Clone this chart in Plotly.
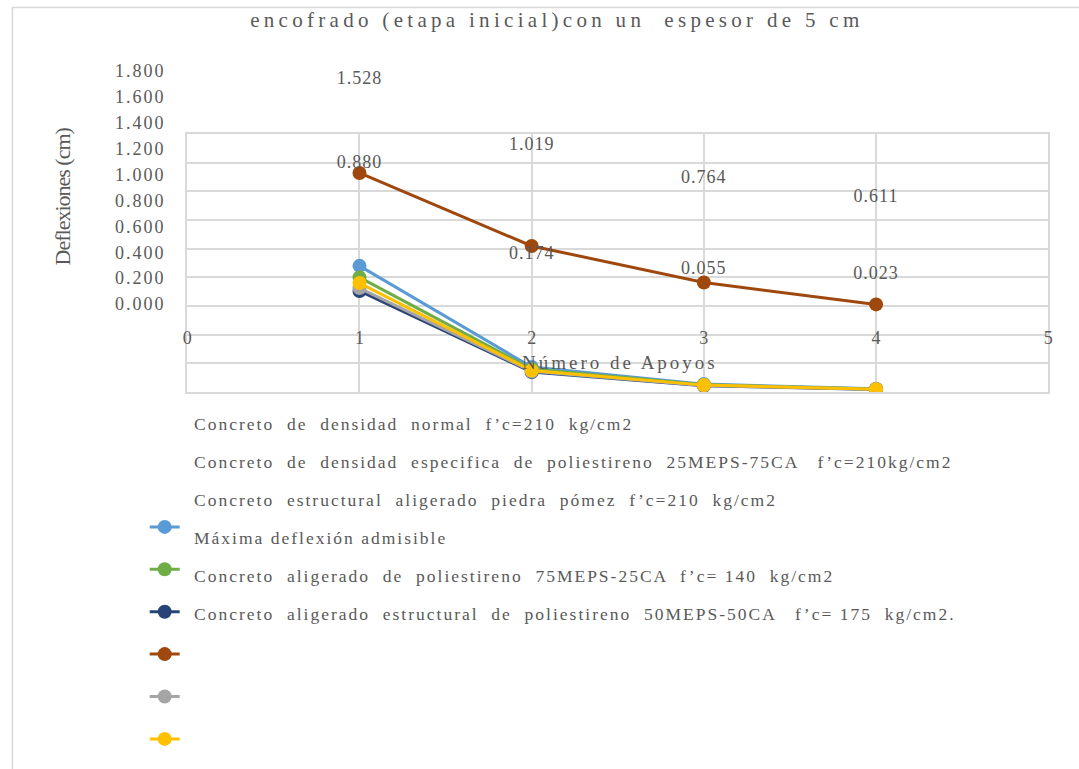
import plotly.graph_objects as go

W, H = 1079, 769

# ---------------- data ----------------
apoyos = [1, 2, 3, 4]
series_names = [
    "Concreto  de  densidad  normal  f’c=210  kg/cm2",
    "Concreto  de  densidad  especifica  de  poliestireno  25MEPS-75CA   f’c=210kg/cm2",
    "Concreto  estructural  aligerado  piedra  pómez  f’c=210  kg/cm2",
    "Máxima deflexión admisible",
    "Concreto  aligerado  de  poliestireno  75MEPS-25CA  f’c= 140  kg/cm2",
    "Concreto  aligerado  estructural  de  poliestireno  50MEPS-50CA   f’c= 175  kg/cm2.",
]
series_colors = ["#5B9BD5", "#70AD47", "#264478", "#9E480E", "#A5A5A5", "#FFC000"]
deflex_normal = [0.880, 0.174, 0.055, 0.023]
deflex_25meps = [0.800, 0.160, 0.050, 0.021]
deflex_pomez = [0.705, 0.140, 0.044, 0.018]
deflex_maxima = [1.528, 1.019, 0.764, 0.611]
deflex_75meps = [0.725, 0.145, 0.046, 0.019]
deflex_50meps = [0.760, 0.150, 0.048, 0.020]
series_values = [deflex_normal, deflex_25meps, deflex_pomez,
                 deflex_maxima, deflex_75meps, deflex_50meps]
labelled_series = [deflex_maxima, deflex_normal]

y_tick_values = [0.0, 0.2, 0.4, 0.6, 0.8, 1.0, 1.2, 1.4, 1.6, 1.8]
x_tick_values = [0, 1, 2, 3, 4, 5]

title_text = "encofrado (etapa inicial)con un  espesor de 5 cm"
x_title = "Número de Apoyos"
y_title = "Deflexiones (cm)"

# ---------------- style ----------------
FONT = "Liberation Serif"
TXT = "#595959"
GRID = "#D9D9D9"
CLEAR = "rgba(0,0,0,0)"


def px_x(p):
    return p / W


def px_y(p):
    return 1 - p / H


def spaced(t, ls):
    return f'<span style="letter-spacing:{ls}px">{t}</span>'


fig = go.Figure()

# data lines
for name, vals, col in zip(series_names, series_values, series_colors):
    fig.add_trace(go.Scatter(
        x=apoyos, y=vals, mode="lines+markers", name=name,
        line=dict(color=col, width=3), marker=dict(color=col, size=14),
        showlegend=False, xaxis="x", yaxis="y"))

# data labels (placed on the label scale, as in the reference)
for vals in labelled_series:
    fig.add_trace(go.Scatter(
        x=apoyos, y=vals, mode="text",
        text=[spaced(f"{v:.3f}", 1) for v in vals],
        textposition="middle center",
        textfont=dict(family=FONT, size=18, color=TXT),
        showlegend=False, hoverinfo="skip", cliponaxis=False,
        xaxis="x3", yaxis="y3"))

# helper traces so that the tick-label axes are drawn
fig.add_trace(go.Scatter(x=[None], y=[None], xaxis="x3", yaxis="y2",
                         showlegend=False, hoverinfo="skip"))
fig.add_trace(go.Scatter(x=[None], y=[None], xaxis="x2", yaxis="y",
                         showlegend=False, hoverinfo="skip"))

# legend glyphs
for i, col in enumerate(series_colors):
    fig.add_trace(go.Scatter(
        x=[None], y=[None], mode="lines+markers", name=" ",
        line=dict(color=col, width=3), marker=dict(color=col, size=14),
        legendgroup=f"g{i}", showlegend=True, hoverinfo="skip"))

# scales
unit = 129.4  # px per unit on the tick-label scale
lab0 = 304    # pixel of 0.000 label
dl0 = 277     # pixel of 0 for data labels
xdom = [px_x(184), px_x(1053)]

fig.update_layout(
    width=W, height=H,
    margin=dict(l=0, r=0, t=0, b=0),
    paper_bgcolor="white", plot_bgcolor=CLEAR,
    font=dict(family=FONT, color=TXT),
    title=dict(text=spaced(title_text, 4.3), x=px_x(557), y=px_y(20),
               xanchor="center", yanchor="middle", xref="paper", yref="paper",
               font=dict(family=FONT, size=21, color=TXT)),
    xaxis=dict(domain=xdom, range=[0, 5], dtick=1,
               showgrid=True, gridcolor=GRID, gridwidth=1.5,
               showticklabels=False, ticks="", zeroline=False,
               showline=True, mirror=True, linecolor=GRID, linewidth=1.5,
               anchor="y"),
    yaxis=dict(domain=[px_y(392), px_y(134)], range=[0, 1.8], dtick=0.2,
               showgrid=True, gridcolor=GRID, gridwidth=1.5,
               showticklabels=False, ticks="", zeroline=False,
               showline=True, mirror=True, linecolor=GRID, linewidth=1.5,
               anchor="x"),
    xaxis2=dict(overlaying="x", domain=xdom, range=[0, 5],
                anchor="free", position=px_y(325), side="bottom",
                tickvals=x_tick_values,
                ticktext=[str(v) for v in x_tick_values],
                tickfont=dict(family=FONT, size=18, color=TXT),
                showgrid=False, zeroline=False, showline=False, ticks=""),
    xaxis3=dict(domain=xdom, range=[0, 5], anchor="y3", visible=False),
    yaxis2=dict(domain=[px_y(lab0 + 0.1 * unit), px_y(lab0 - 1.9 * unit)],
                range=[-0.1, 1.9], anchor="free", position=px_x(162),
                side="left", tickvals=y_tick_values,
                ticktext=[spaced(f"{v:.3f}", 2) for v in y_tick_values],
                tickfont=dict(family=FONT, size=18, color=TXT),
                showgrid=False, zeroline=False, showline=False, ticks=""),
    yaxis3=dict(domain=[px_y(dl0 + 0.1 * unit), px_y(dl0 - 1.9 * unit)],
                range=[-0.1, 1.9], anchor="x3", visible=False),
    legend=dict(x=px_x(141), y=px_y(510), xanchor="left", yanchor="top",
                traceorder="grouped", tracegroupgap=18.6,
                bgcolor=CLEAR, itemsizing="trace",
                font=dict(family=FONT, size=16, color=TXT)),
    shapes=[dict(type="rect", xref="paper", yref="paper",
                 x0=px_x(7.5), x1=1.02, y0=-0.02, y1=px_y(7.5),
                 line=dict(color=GRID, width=1.5), fillcolor=CLEAR,
                 layer="below")],
)

annotations = [
    dict(text=spaced(x_title, 3), x=px_x(621), y=px_y(362), xref="paper",
         yref="paper", showarrow=False, xanchor="center", yanchor="middle",
         font=dict(family=FONT, size=19, color=TXT)),
    dict(text=spaced(y_title, -1), x=px_x(58), y=px_y(196), xref="paper",
         yref="paper", showarrow=False, textangle=-90, xanchor="center",
         yanchor="middle", font=dict(family=FONT, size=22, color=TXT)),
]
for i, name in enumerate(series_names):
    annotations.append(dict(
        text=spaced(name, 2.0), x=px_x(189), y=px_y(424 + 38 * i),
        xref="paper", yref="paper", showarrow=False,
        xanchor="left", yanchor="middle",
        font=dict(family=FONT, size=17.5, color=TXT)))
fig.update_layout(annotations=annotations)

fig.write_html("out.html")
